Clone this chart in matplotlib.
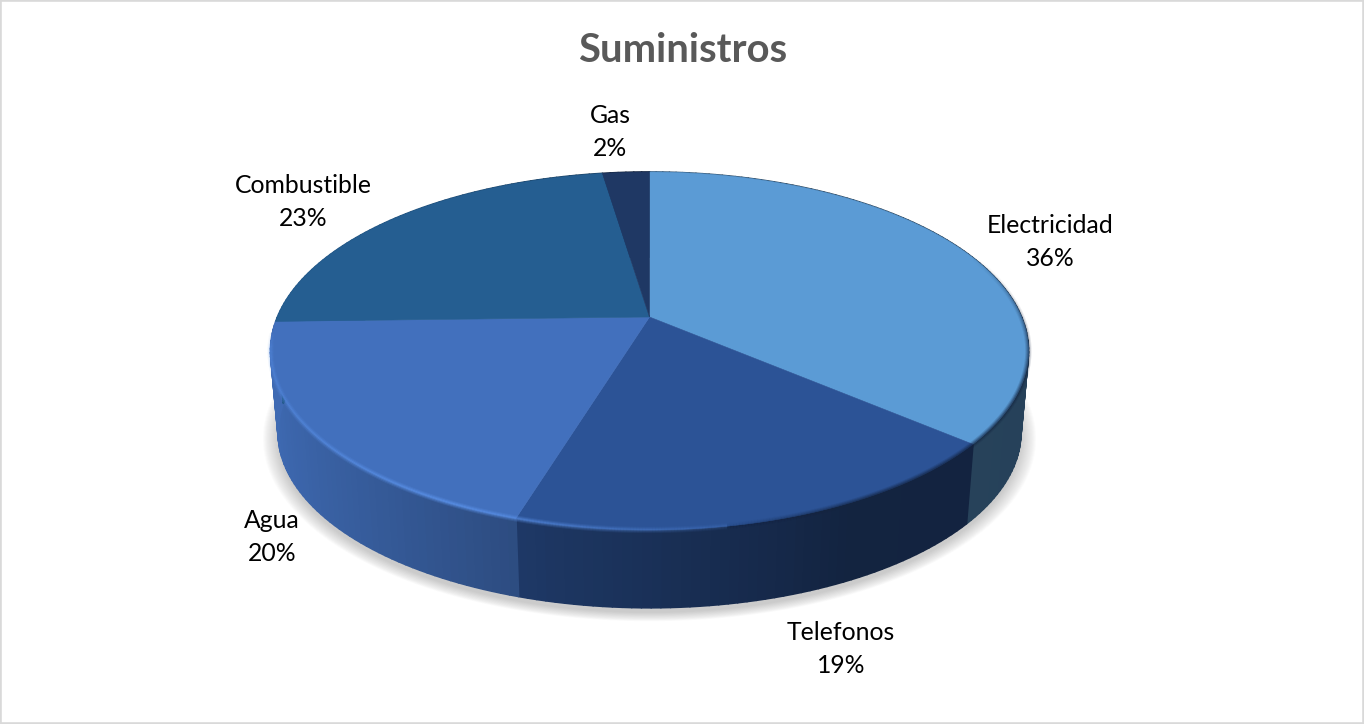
import numpy as np
import matplotlib
matplotlib.use("Agg")
import matplotlib.pyplot as plt
from matplotlib.patches import Polygon
from matplotlib.collections import PolyCollection, LineCollection
from matplotlib.colors import to_rgb

# ---- data ----
categories = ["Electricidad", "Telefonos", "Agua", "Combustible", "Gas"]
values = [36.2, 18.55, 19.85, 23.0, 2.4]
title = "Suministros"

# ---- style ----
top_colors = ["#5b9bd5", "#2c5396", "#4270bd", "#255e91", "#1f3864"]
label_pos = [(1050, 242), (841, 649), (272, 537), (303, 202), (610, 132)]
CX, CY, A, B, P = 649.5, 317.0, 372.0, 172.5, 0.19
DEPTH, BOT_SCALE = 82.0, 0.98
FONT = "Lato"


def project(theta, scale=1.0, dy=0.0):
    """Perspective projection of a clockwise-from-top pie angle (radians)."""
    x, y = np.sin(theta), np.cos(theta)
    d = 1 + P * y
    return CX + scale * A * x / d, CY + dy - scale * B * y / d


fig = plt.figure(figsize=(13.64, 7.24), dpi=100, facecolor="white")
ax = fig.add_axes([0, 0, 1, 1])
ax.set_xlim(0, 1364)
ax.set_ylim(724, 0)
ax.set_xticks([])
ax.set_yticks([])
for s in ax.spines.values():
    s.set_color("#d9d9d9")
    s.set_linewidth(2.6)

edges = np.cumsum([0] + values) / sum(values) * 2 * np.pi

# soft shadow under the pie
t = np.linspace(0, 2 * np.pi, 300)
for k in np.linspace(0, 1, 16):
    sx, sy = project(t, BOT_SCALE + 0.04 * (1 - k), DEPTH + 5)
    ax.fill(sx, sy, color="#707070", alpha=0.022, lw=0, zorder=1)

# side walls, shaded along the horizontal position
shade_x = [-1.0, -0.35, 0.45, 1.0]
shade_v = [0.95, 0.70, 0.43, 0.42]
polys, cols = [], []
for i, c in enumerate(top_colors):
    th = np.linspace(edges[i], edges[i + 1], max(3, int(values[i] * 3)))
    rgb = np.array(to_rgb(c))
    for a, b in zip(th[:-1], th[1:]):
        x1, y1 = project(np.array([a, b]))
        x2, y2 = project(np.array([b, a]), BOT_SCALE, DEPTH)
        polys.append(list(zip(np.r_[x1, x2], np.r_[y1, y2])))
        nx = np.sin((a + b) / 2)
        cols.append(tuple(rgb * np.interp(nx, shade_x, shade_v)))
ax.add_collection(PolyCollection(polys, facecolors=cols, edgecolors=cols, linewidths=1.3, zorder=2))

# top faces
for i, c in enumerate(top_colors):
    th = np.linspace(edges[i], edges[i + 1], 120)
    x, y = project(th)
    ax.add_patch(Polygon(np.c_[np.r_[CX, x], np.r_[CY, y]], closed=True, fc=c, ec=c, lw=0.4, zorder=3))

# rim: light bevel on the left of the front edge, dark soft edge on the right
th = np.linspace(np.pi * 0.38, np.pi * 1.47, 500)
x, y = project(th)
seg = [[(x[i], y[i]), (x[i + 1], y[i + 1])] for i in range(len(x) - 1)]
mid_th = (th[:-1] + th[1:]) / 2
mid = np.sin(mid_th)
for lw, strength in [(4.5, 0.18), (3.0, 0.28), (1.5, 0.4)]:
    rc = []
    for m, tt in zip(mid, mid_th):
        light = np.interp(m, [-1, -0.985, -0.45, 0.15, 0.3], [0, 0.45, 1.0, 0.25, 0])
        dark = np.interp(m, [0.15, 0.5, 1], [0, 0.9, 0.9]) * np.interp(tt, [0.38 * np.pi, 0.62 * np.pi], [0.0, 1.0])
        if tt > np.pi:
            rc.append((0.38, 0.6, 0.95, light * strength))
        elif light > 0 and m < 0.3 and dark < 0.05:
            rc.append((0.38, 0.6, 0.95, light * strength))
        else:
            rc.append((0.08, 0.14, 0.25, dark * strength))
    ax.add_collection(LineCollection(seg, colors=rc, linewidths=lw, zorder=4, capstyle="butt"))

# labels
for name, val, (lx, ly) in zip(categories, values, label_pos):
    ax.text(lx, ly, f"{name}\n{val:.0f}%", ha="center", va="center", ma="center",
            fontsize=17.8, family=FONT, color="black", linespacing=1.56, zorder=5)

ax.text(683, 51, title, ha="center", va="center", fontsize=28.8, fontweight="bold",
        family=FONT, color="#595959", zorder=5)

fig.savefig("out.png", dpi=100, facecolor="white")
